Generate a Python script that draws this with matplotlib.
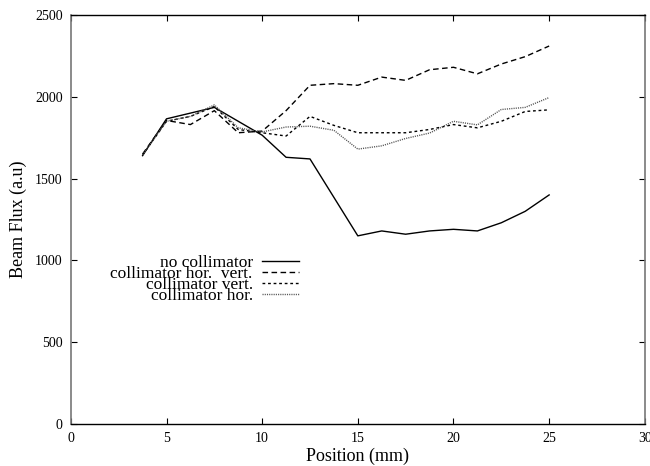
import numpy as np
import matplotlib
matplotlib.use("Agg")
import matplotlib.pyplot as plt

# Beam flux scan across the target, with and without collimators
position = [3.75, 5, 6.25, 7.5, 8.75, 10, 11.25, 12.5, 13.75, 15,
            16.25, 17.5, 18.75, 20, 21.25, 22.5, 23.75, 25]

no_collimator = [1640, 1865, 1900, 1935, 1850, 1765, 1630, 1620, 1385, 1150,
                 1180, 1160, 1180, 1190, 1180, 1230, 1300, 1400]
coll_hor_vert = [1650, 1855, 1830, 1915, 1780, 1790, 1915, 2070, 2080, 2070,
                 2120, 2100, 2165, 2180, 2140, 2200, 2245, 2310]
coll_vert = [1645, 1850, 1880, 1940, 1800, 1780, 1760, 1880, 1825, 1780,
             1780, 1780, 1800, 1830, 1810, 1850, 1910, 1920]
coll_hor = [1645, 1850, 1880, 1950, 1810, 1785, 1815, 1820, 1795, 1680,
            1700, 1745, 1778, 1850, 1828, 1922, 1935, 1995]

plt.rcParams['font.family'] = ['Liberation Serif', 'DejaVu Serif']

fig = plt.figure(figsize=(6.5, 4.66), dpi=100)
ax = fig.add_axes([0.109, 0.090, 0.883, 0.878])

ax.plot(position, no_collimator, color='black', lw=1.0, label='no collimator')
ax.plot(position, coll_hor_vert, color='black', lw=1.0, dashes=(4, 2.5),
        label='collimator hor.  vert.')
ax.plot(position, coll_vert, color='black', lw=1.0, dashes=(2, 2),
        label='collimator vert.')
ax.plot(position, coll_hor, color='#555555', lw=1.0, dashes=(0.8, 0.8),
        label='collimator hor.')

ax.set_xlim(0, 30)
ax.set_ylim(0, 2500)
ax.set_xticks(np.arange(0, 31, 5))
ax.set_yticks(np.arange(0, 2501, 500))
ax.tick_params(direction='in', length=4, width=0.8, top=True, right=True,
               labelsize=10, pad=6)
ax.set_xlabel('Position (mm)', fontsize=13, labelpad=2)
ax.set_ylabel('Beam Flux (a.u)', fontsize=13, labelpad=6)

for side in ['left', 'right']:
    ax.spines[side].set_color('#777777')
    ax.spines[side].set_linewidth(1.2)
for side in ['top', 'bottom']:
    ax.spines[side].set_color('black')
    ax.spines[side].set_linewidth(1.0)

# tight gnuplot-style key: text right-aligned, sample on the right
ax.legend(loc='upper right', bbox_to_anchor=(0.397, 0.413), frameon=False,
          markerfirst=False, fontsize=12.5, handlelength=2.1,
          handletextpad=0.55, labelspacing=-0.3, borderpad=0, borderaxespad=0)

fig.savefig('out.png', dpi=100)
